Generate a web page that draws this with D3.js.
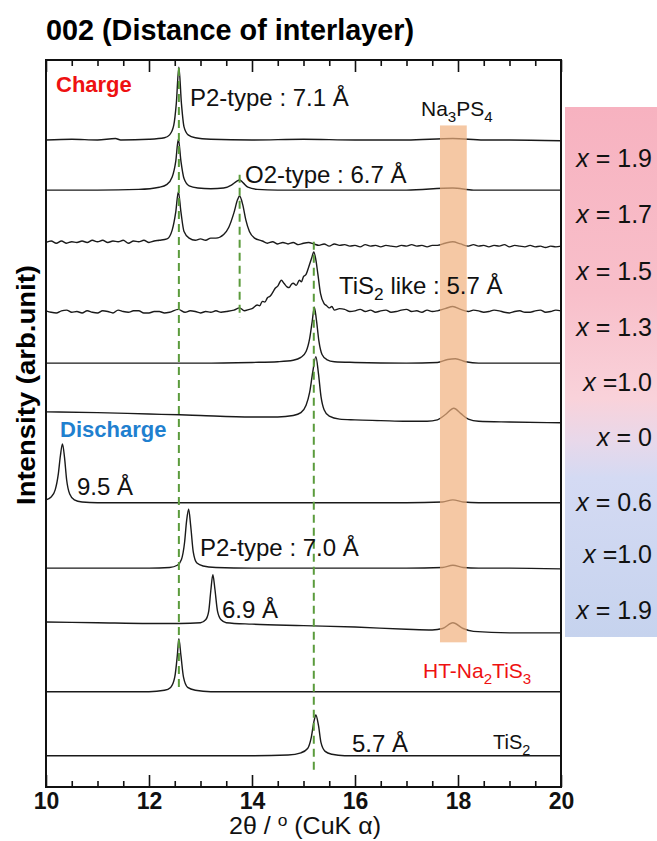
<!DOCTYPE html>
<html>
<head>
<meta charset="utf-8">
<style>
  body { margin: 0; background: #fff; }
  text { font-family: "Liberation Sans", Arial, sans-serif; }
</style>
</head>
<body>
<div id="chart"></div>
<script src="https://d3js.org/d3.v7.min.js"></script>
<script>
// 2theta / intensity (relative to each pattern's offset)
const charge19 = [[10,0],[10.5,1],[11,0],[11.35,2],[11.45,0],[12,1],[12.3,3],[12.4,7],[12.48,20],[12.53,50],[12.58,100],[12.63,50],[12.68,18],[12.76,7],[12.9,3],[13.2,1],[14,0],[15,1],[16,0],[17,0],[17.9,2],[18.5,0],[19,0],[20,-1]];
const charge17 = [[10,0],[11,0],[11.8,1],[12.2,4],[12.35,8],[12.45,18],[12.52,40],[12.57,70],[12.62,40],[12.68,16],[12.78,6],[12.95,3],[13.2,2],[13.45,3],[13.6,7],[13.7,12],[13.76,14],[13.83,10],[13.92,4],[14.1,1],[14.5,0],[15,0],[16,0],[17,0],[17.9,3],[18.3,0],[19,0],[20,0]];
const charge15 = [[10,3],[10.1,5],[10.2,2],[10.3,5],[10.4,2],[10.5,4],[10.6,3],[10.7,5],[10.8,3],[10.9,6],[11,4],[11.1,6],[11.2,3],[11.3,5],[11.4,4],[11.5,6],[11.6,2],[11.7,5],[11.8,4],[11.9,6],[12,3],[12.1,5],[12.2,6],[12.35,8],[12.45,20],[12.52,45],[12.57,73],[12.62,45],[12.68,18],[12.78,9],[12.9,6],[13.0,8],[13.1,6],[13.2,9],[13.3,9],[13.45,14],[13.55,24],[13.65,44],[13.72,62],[13.76,67],[13.82,55],[13.88,34],[13.95,18],[14.05,9],[14.2,5],[14.3,2],[14.4,4],[14.5,1],[14.6,3],[14.7,1],[14.8,3],[14.9,0],[15.0,2],[15.1,3],[15.2,1],[15.3,-1],[15.4,1],[15.5,-2],[15.6,1],[15.7,-1],[15.8,0],[15.9,-2],[16,-1],[16.1,-3],[16.2,0],[16.3,-2],[16.4,-1],[16.5,-3],[16.6,-1],[16.7,-2],[16.8,-3],[16.9,-1],[17,-2],[17.1,0],[17.2,-2],[17.3,-1],[17.4,-3],[17.5,-1],[17.6,-1],[17.75,2],[17.9,4],[18.05,1],[18.2,-2],[18.3,0],[18.4,-2],[18.5,-1],[18.6,-3],[18.7,-1],[18.8,-2],[18.9,0],[19,-3],[19.1,-1],[19.2,-2],[19.3,-3],[19.4,-1],[19.5,-3],[19.6,-2],[19.7,-4],[19.8,-2],[19.9,-3],[20,-2]];
const charge13 = [[10,2],[10.1,0],[10.2,-1],[10.3,2],[10.4,3],[10.5,0],[10.6,1],[10.7,-1],[10.8,2],[10.9,0],[11,-1],[11.1,2],[11.2,1],[11.3,-1],[11.4,3],[11.5,1],[11.6,0],[11.7,2],[11.8,2],[11.9,-1],[12,-1],[12.1,1],[12.2,1],[12.3,-1],[12.4,0],[12.57,4],[12.7,0],[12.8,2],[12.9,1],[13.0,-1],[13.1,1],[13.2,0],[13.3,2],[13.4,0],[13.5,1],[13.65,3],[13.76,6],[13.85,2],[13.95,4],[14.0,5],[14.1,10],[14.15,9],[14.2,15],[14.25,14],[14.3,20],[14.35,22],[14.4,27],[14.45,33],[14.5,36],[14.57,44],[14.62,40],[14.68,35],[14.72,34],[14.77,39],[14.8,40],[14.86,37],[14.92,44],[14.96,42],[15.0,49],[15.05,52],[15.1,62],[15.16,75],[15.2,83],[15.24,72],[15.28,52],[15.33,26],[15.4,12],[15.45,9],[15.5,6],[15.55,8],[15.6,3],[15.7,5],[15.8,4],[15.9,1],[16,2],[16.1,4],[16.2,1],[16.3,3],[16.4,0],[16.5,2],[16.6,3],[16.7,0],[16.8,1],[16.9,3],[17,4],[17.1,1],[17.2,2],[17.3,0],[17.4,3],[17.5,1],[17.6,2],[17.75,5],[17.9,8],[18.05,4],[18.2,1],[18.3,3],[18.4,2],[18.5,0],[18.6,1],[18.7,3],[18.8,2],[18.9,0],[19,-1],[19.1,1],[19.2,2],[19.3,0],[19.4,0],[19.5,2],[19.6,3],[19.7,0],[19.8,1],[19.9,3],[20,2]];
const charge10 = [[10,0],[11,0],[12,0],[12.6,0],[13,0],[14,1],[14.5,2],[14.8,4],[14.95,8],[15.05,16],[15.12,34],[15.17,58],[15.21,77],[15.25,60],[15.3,30],[15.36,12],[15.45,5],[15.6,2],[16,1],[17,0],[17.6,1],[17.8,5],[17.95,6],[18.15,2],[18.4,0],[19,0],[20,0]];
const charge00 = [[10,15],[11,14],[12,12],[12.6,11],[13,10],[14,8],[14.5,8],[14.8,10],[14.95,14],[15.05,24],[15.12,42],[15.18,70],[15.24,91],[15.29,68],[15.34,36],[15.4,18],[15.5,9],[15.7,5],[16,4],[16.5,3],[17,2],[17.4,2],[17.6,4],[17.75,11],[17.92,20],[18.05,13],[18.2,5],[18.4,2],[19,1],[20,0]];
const disch06 = [[10,4],[10.1,8],[10.18,18],[10.24,40],[10.28,65],[10.32,81],[10.36,62],[10.4,32],[10.46,12],[10.55,4],[10.7,1],[11,0],[12,0],[13,0],[14,0],[15,0],[16,0],[17,0],[17.7,1],[17.9,4],[18.1,1],[18.4,0],[19,0],[20,0]];
const disch10 = [[10,0],[11,0],[12,0],[12.4,1],[12.55,4],[12.63,12],[12.69,35],[12.73,65],[12.77,81],[12.81,58],[12.86,22],[12.93,7],[13.05,3],[13.3,1],[14,0],[15,0],[16,0],[17,0],[17.7,1],[17.9,4],[18.1,1],[18.4,0],[19,0],[20,-1]];
const disch19 = [[10,15],[11,14],[12,13],[12.6,13],[13,14],[13.1,18],[13.16,30],[13.2,58],[13.24,80],[13.28,60],[13.33,30],[13.4,18],[13.5,14],[14,12],[15,10],[16,8],[17,5],[17.5,4],[17.7,6],[17.9,14],[18.1,6],[18.3,2],[19,0],[20,0]];
const pristine = [[10,0],[11,0],[12,0],[12.3,2],[12.42,6],[12.5,20],[12.55,50],[12.58,73],[12.62,50],[12.67,20],[12.75,6],[12.9,2],[13.2,0],[14,0],[15,0],[16,0],[17,0],[18,0],[19,0],[20,0]];
const tis2 = [[10,0],[11,0],[12,0],[13,0],[14,0],[14.7,1],[14.95,4],[15.08,10],[15.15,25],[15.2,46],[15.24,56],[15.29,42],[15.34,18],[15.42,6],[15.55,2],[15.8,0],[17,0],[18,0],[19,0],[20,0]];

const patterns = [charge19, charge17, charge15, charge13, charge10, charge00, disch06, disch10, disch19, pristine, tis2];
const offsets = [890, 821, 746, 653, 583, 501, 391, 301, 212, 131, 43];

// dashed guide lines: 2theta, intensity from / to
const guidePos = [12.58, 13.76, 15.2];
const guideFrom = [131, 645, 23];
const guideTo = [989, 842, 750];

// Na3PS4 / HT-Na2TiS3 band
const bandRange = [17.65, 18.17];
const bandIntensity = [199, 910];

const majorTicks = [10, 12, 14, 16, 18, 20];
const minorTicks = [10.5, 11, 11.5, 12.5, 13, 13.5, 14.5, 15, 15.5, 16.5, 17, 17.5, 18.5, 19, 19.5];

const stateLabels = ['1.9', '1.7', '1.5', '1.3', '1.0', '0', '0.6', '1.0', '1.9'];
const stateSep = [' = ', ' = ', ' = ', ' = ', ' =', ' = ', ' = ', ' =', ' = '];

const width = 657, height = 841;
const plotL = 46, plotR = 561, plotT = 60, plotB = 787;

const svg = d3.select('#chart').append('svg')
  .attr('width', width).attr('height', height)
  .style('background', '#fff');

const x = d3.scaleLinear().domain([10, 20]).range([plotL, plotR]);
const y = d3.scaleLinear().domain([0, 1000]).range([plotB, plotT]);

// right side gradient panel
const defs = svg.append('defs');
const grad = defs.append('linearGradient').attr('id', 'panelGrad')
  .attr('x1', 0).attr('y1', 0).attr('x2', 0).attr('y2', 1);
grad.append('stop').attr('offset', '0%').attr('stop-color', '#f7b2c0');
grad.append('stop').attr('offset', '35%').attr('stop-color', '#f8bfca');
grad.append('stop').attr('offset', '55%').attr('stop-color', '#f9d2da');
grad.append('stop').attr('offset', '63%').attr('stop-color', '#e8d8ea');
grad.append('stop').attr('offset', '70%').attr('stop-color', '#d4daf3');
grad.append('stop').attr('offset', '100%').attr('stop-color', '#c6d3ee');

svg.append('rect')
  .attr('x', 565).attr('y', 107).attr('width', 92).attr('height', 530)
  .attr('fill', 'url(#panelGrad)');

const labelY = [167, 223, 280, 336, 391, 446, 511, 563, 619];
stateLabels.forEach((s, i) => {
  const t = svg.append('text')
    .attr('x', 652).attr('y', labelY[i])
    .attr('text-anchor', 'end')
    .attr('font-size', 25).attr('fill', '#111');
  t.append('tspan').attr('font-style', 'italic').text('x');
  t.append('tspan').text(stateSep[i] + s);
});

// traces
const line = d3.line().curve(d3.curveMonotoneX);
const g = svg.append('g');
patterns.forEach((p, i) => {
  g.append('path')
    .attr('d', line(p.map(d => [x(d[0]), y(offsets[i] + d[1])])))
    .attr('fill', 'none')
    .attr('stroke', '#1a1a1a')
    .attr('stroke-width', 1.4);
});

// band
svg.append('rect')
  .attr('x', x(bandRange[0]))
  .attr('y', y(bandIntensity[1]))
  .attr('width', x(bandRange[1]) - x(bandRange[0]))
  .attr('height', y(bandIntensity[0]) - y(bandIntensity[1]))
  .attr('fill', 'rgb(241,176,126)')
  .attr('opacity', 0.7);

// green dashed guides
guidePos.forEach((p, i) => {
  svg.append('line')
    .attr('x1', x(p)).attr('x2', x(p))
    .attr('y1', y(guideTo[i])).attr('y2', y(guideFrom[i]))
    .attr('stroke', '#5b9b3c')
    .attr('stroke-width', 2)
    .attr('stroke-dasharray', '8,5');
});

// axes
const bottomAxis = svg.append('g').attr('transform', `translate(0,${plotB})`)
  .call(d3.axisBottom(x).tickValues(majorTicks).tickSize(-12).tickPadding(6).tickFormat(d3.format('d')));
svg.append('g').attr('transform', `translate(0,${plotB})`)
  .call(d3.axisBottom(x).tickValues(minorTicks).tickSize(-6).tickFormat(''));
svg.append('g').attr('transform', `translate(0,${plotT})`)
  .call(d3.axisTop(x).tickValues(majorTicks).tickSize(-12).tickFormat(''));
svg.append('g').attr('transform', `translate(0,${plotT})`)
  .call(d3.axisTop(x).tickValues(minorTicks).tickSize(-6).tickFormat(''));
svg.selectAll('.domain').remove();
svg.selectAll('.tick line').attr('stroke', '#111').attr('stroke-width', 1.6);
bottomAxis.selectAll('text')
  .attr('font-family', '"Liberation Sans", Arial, sans-serif')
  .attr('font-size', 23).attr('font-weight', 'bold').attr('fill', '#111');

svg.append('rect')
  .attr('x', plotL).attr('y', plotT)
  .attr('width', plotR - plotL).attr('height', plotB - plotT)
  .attr('fill', 'none').attr('stroke', '#111').attr('stroke-width', 2);

// titles
svg.append('text')
  .attr('x', 46).attr('y', 40)
  .attr('font-size', 30).attr('font-weight', 'bold')
  .attr('textLength', 368).attr('lengthAdjust', 'spacingAndGlyphs')
  .text('002 (Distance of interlayer)');

svg.append('text')
  .attr('transform', 'translate(35,385) rotate(-90)')
  .attr('text-anchor', 'middle')
  .attr('font-size', 26).attr('font-weight', 'bold')
  .attr('textLength', 240).attr('lengthAdjust', 'spacingAndGlyphs')
  .text('Intensity (arb.unit)');

const xl = svg.append('text')
  .attr('x', 305).attr('y', 834)
  .attr('text-anchor', 'middle')
  .attr('font-size', 23).attr('fill', '#111')
  .attr('textLength', 152).attr('lengthAdjust', 'spacingAndGlyphs');
xl.append('tspan').text('2\u03b8 / ');
xl.append('tspan').attr('font-size', 16).attr('dy', -8).text('o');
xl.append('tspan').attr('dy', 8).text(' (CuK \u03b1)');

// annotations with subscripts
function richText(px, py, parts, opts) {
  const t = svg.append('text').attr('x', px).attr('y', py)
    .attr('font-size', opts.size).attr('fill', opts.color || '#111')
    .attr('font-weight', opts.weight || 'normal');
  let shift = 0;
  parts.forEach(pt => {
    const target = pt.sub ? 6 : 0;
    const ts = t.append('tspan').attr('dy', target - shift).text(pt.t);
    if (pt.sub) ts.attr('font-size', opts.size * 0.72);
    shift = target;
  });
  return t;
}

richText(56, 92, [{t: 'Charge'}], {size: 22, weight: 'bold', color: '#ee1111'});
richText(60, 437, [{t: 'Discharge'}], {size: 22, weight: 'bold', color: '#1f80cf'});
richText(190, 106, [{t: 'P2-type : 7.1 \u00c5'}], {size: 24});
richText(245, 183, [{t: 'O2-type : 6.7 \u00c5'}], {size: 24});
richText(339, 294, [{t: 'TiS'}, {t: '2', sub: true}, {t: ' like : 5.7 \u00c5'}], {size: 24});
richText(77, 495, [{t: '9.5 \u00c5'}], {size: 24});
richText(200, 556, [{t: 'P2-type : 7.0 \u00c5'}], {size: 24});
richText(222, 618, [{t: '6.9 \u00c5'}], {size: 24});
richText(352, 752, [{t: '5.7 \u00c5'}], {size: 24});
richText(493, 749, [{t: 'TiS'}, {t: '2', sub: true}], {size: 20});
richText(421, 116, [{t: 'Na'}, {t: '3', sub: true}, {t: 'PS'}, {t: '4', sub: true}], {size: 21});
richText(423, 678, [{t: 'HT-Na'}, {t: '2', sub: true}, {t: 'TiS'}, {t: '3', sub: true}], {size: 21, color: '#ee1111'});
</script>
</body>
</html>
